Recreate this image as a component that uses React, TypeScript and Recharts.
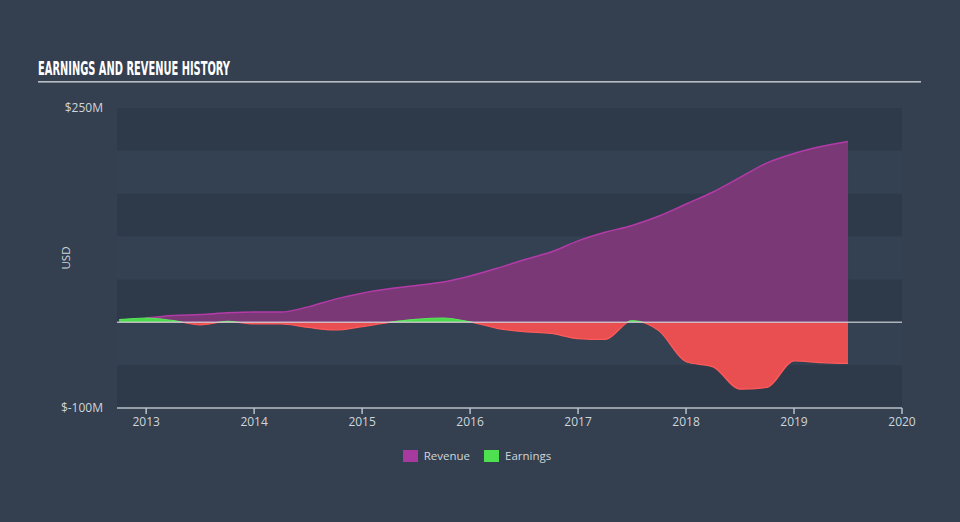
import React from 'react';
import { AreaChart, Area, XAxis, YAxis, ReferenceLine, ReferenceArea, Legend } from 'recharts';

const quarters = [
  2012.75, 2013, 2013.25, 2013.5, 2013.75, 2014, 2014.25, 2014.5, 2014.75,
  2015, 2015.25, 2015.5, 2015.75, 2016, 2016.25, 2016.5, 2016.75,
  2017, 2017.25, 2017.5, 2017.75, 2018, 2018.25, 2018.5, 2018.75,
  2019, 2019.25, 2019.5,
];
const revenue = [
  null, 5, 8, 9, 11, 12, 12, 18, 27,
  34, 39, 43, 47, 54, 63, 73, 82,
  95, 105, 113, 124, 138, 152, 169, 186,
  197, 205, 211,
];
const earnings = [
  3, 5, 2, -3, 1, -2, -2, -6, -9,
  -5, 0, 3.5, 5, 0.5, -7, -11, -13,
  -19, -20, 2, -10, -46, -52, -78, -76,
  -45, -47, -48,
];
const yearTicks = [2013, 2014, 2015, 2016, 2017, 2018, 2019, 2020];
const yTickValues = [-100, 250];
const bandEdges = [250, 200, 150, 100, 50, 0, -50, -100];
const seriesNames = ['Revenue', 'Earnings'];

const data = quarters.map((t, i) => ({ t, revenue: revenue[i], earnings: earnings[i] }));

const eMax = Math.max(...earnings);
const eMin = Math.min(...earnings);
const zeroOffset = eMax / (eMax - eMin);

const FONT = '"Open Sans", "DejaVu Sans", sans-serif';
const TEXT = '#cfd5db';

const legendColors = ['#a8399f', '#4fe04f'];

const renderLegend = () => (
  <div style={{ display: 'flex', justifyContent: 'center', alignItems: 'center', fontFamily: FONT, fontSize: 11.5, color: TEXT, paddingRight: 6 }}>
    {seriesNames.map((n, i) => (
      <div key={n} style={{ display: 'flex', alignItems: 'center', marginRight: i === 0 ? 14 : 0 }}>
        <div style={{ width: 15, height: 12, background: legendColors[i], marginRight: 6 }} />
        <span>{n}</span>
      </div>
    ))}
  </div>
);

const formatY = (v: number) => (v < 0 ? `$-${Math.abs(v)}M` : `$${v}M`);

export default function App() {
  return (
    <div style={{ position: 'absolute', left: 0, top: 0, width: 960, height: 522, background: '#344050', overflow: 'hidden' }}>
      <svg width={960} height={100} style={{ position: 'absolute', left: 0, top: 0 }}>
        <text x={38} y={75} fill="#ffffff" fontFamily='"DejaVu Sans Condensed", "DejaVu Sans", sans-serif' fontWeight="bold" fontSize={20} textLength={192} lengthAdjust="spacingAndGlyphs">
          EARNINGS AND REVENUE HISTORY
        </text>
        <rect x={38} y={81} width={883} height={1.6} fill="#b7bec6" />
      </svg>
      <div style={{ position: 'absolute', left: 0, top: 0 }}>
        <AreaChart width={960} height={522} data={data} margin={{ top: 108, left: 57, right: 58, bottom: 84 }}>
          <defs>
            <linearGradient id="earnFill" x1="0" y1="0" x2="0" y2="1">
              <stop offset={zeroOffset} stopColor="#4bd84b" stopOpacity={1} />
              <stop offset={zeroOffset} stopColor="#e94f51" stopOpacity={1} />
            </linearGradient>
            <linearGradient id="earnStroke" x1="0" y1="0" x2="0" y2="1">
              <stop offset={zeroOffset} stopColor="#5be35b" stopOpacity={1} />
              <stop offset={zeroOffset} stopColor="#ff5a5a" stopOpacity={1} />
            </linearGradient>
          </defs>
          <XAxis
            dataKey="t"
            type="number"
            domain={[2012.73, 2020]}
            allowDataOverflow
            ticks={yearTicks}
            interval={0}
            tickSize={6}
            tickMargin={3}
            stroke="#b8c0c8"
            axisLine={{ stroke: '#b8c0c8', strokeWidth: 1.5 }}
            tickLine={{ stroke: '#b8c0c8', strokeWidth: 1.5 }}
            tick={{ fill: TEXT, fontSize: 12, fontFamily: FONT }}
            height={30}
          />
          <YAxis
            type="number"
            domain={[-100, 250]}
            ticks={yTickValues}
            allowDataOverflow
            width={60}
            axisLine={false}
            tickLine={false}
            tickSize={6}
            tickMargin={8}
            tickFormatter={formatY}
            tick={{ fill: TEXT, fontSize: 12, fontFamily: FONT }}
            label={(props: any) => {
              const vb = props.viewBox || {};
              return (
                <text x={vb.x + 8} y={vb.y + vb.height / 2} transform={`rotate(-90, ${vb.x + 8}, ${vb.y + vb.height / 2})`} textAnchor="middle" dominantBaseline="central" fill={TEXT} fontSize={11.5} fontFamily={FONT}>
                  USD
                </text>
              );
            }}
          />
          {bandEdges.slice(0, -1).map((top, i) => (
            <ReferenceArea key={i} y1={bandEdges[i + 1]} y2={top} fill={i % 2 === 0 ? '#2e3a49' : '#334152'} fillOpacity={1} stroke="none" />
          ))}
          <Legend verticalAlign="middle" align="center" content={renderLegend} wrapperStyle={{ top: 448, left: 0, width: 960, height: 16 }} />
          <Area
            type="monotone"
            dataKey="revenue"
            name="Revenue"
            baseValue={0}
            stroke="#b33ba8"
            strokeWidth={1.5}
            fill="#7b3877"
            fillOpacity={1}
            isAnimationActive={false}
            dot={false}
            activeDot={false}
          />
          <Area
            type="monotone"
            dataKey="earnings"
            name="Earnings"
            baseValue={0}
            stroke="url(#earnStroke)"
            strokeWidth={1.2}
            fill="url(#earnFill)"
            fillOpacity={1}
            isAnimationActive={false}
            dot={false}
            activeDot={false}
          />
          <ReferenceLine y={0} stroke="#d8dde2" strokeOpacity={0.75} strokeWidth={1.5} />
        </AreaChart>
      </div>
    </div>
  );
}
